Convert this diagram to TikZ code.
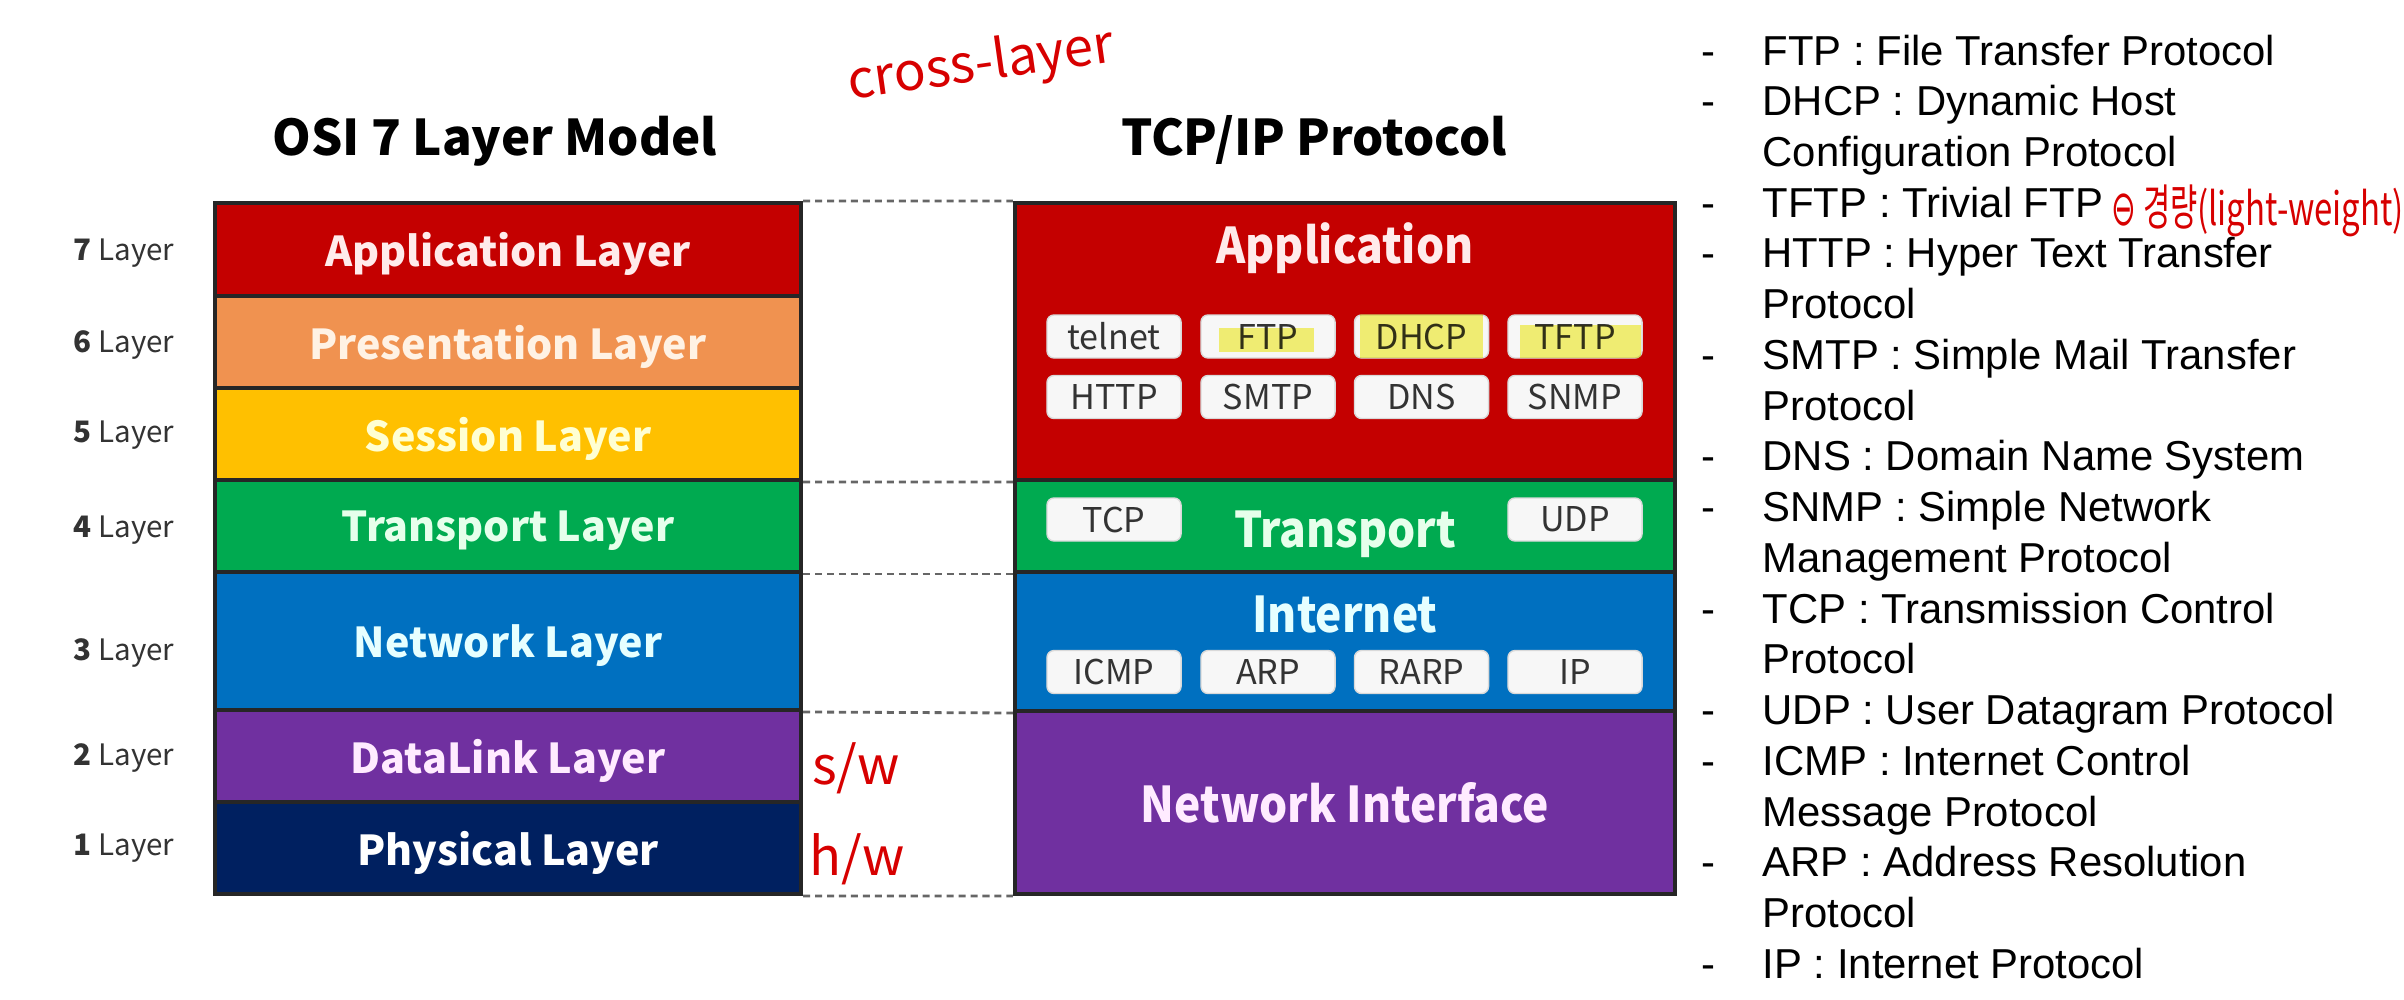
\documentclass[tikz,border=0pt]{standalone}
\usepackage{fontspec}
\setmainfont{Liberation Sans}
\newfontfamily\diagfont{Noto Sans CJK KR}
\newfontfamily\diagnarrow[FakeStretch=0.9]{Noto Sans CJK KR}
\newfontfamily\symfont{DejaVu Sans}
\usetikzlibrary{positioning}
\definecolor{appred}{RGB}{196,0,0}
\definecolor{presorange}{RGB}{240,146,80}
\definecolor{sessyellow}{RGB}{255,192,0}
\definecolor{transgreen}{RGB}{0,170,80}
\definecolor{netblue}{RGB}{0,112,192}
\definecolor{linkpurple}{RGB}{112,48,160}
\definecolor{physnavy}{RGB}{0,32,96}
\definecolor{pen}{RGB}{215,0,0}
\definecolor{marker}{RGB}{245,240,60}
\begin{document}
\begin{tikzpicture}[x=0.01cm,y=-0.01cm,
  osi/.style={draw=black!85, line width=1.1pt, inner sep=0pt, minimum width=5.86cm, text depth=0pt, font=\diagfont\bfseries\fontsize{11.7}{14}\selectfont},
  tcpip/.style={draw=black!85, line width=1.1pt, inner sep=0pt, minimum width=6.6cm, text=white, text depth=0pt, font=\diagnarrow\bfseries\fontsize{14}{17}\selectfont},
  tcptitle/.style={anchor=base, inner sep=0pt, text=white, font=\diagnarrow\bfseries\fontsize{14}{17}\selectfont},
  proto/.style={draw=black!15, fill=black!3, rounded corners=2pt, minimum width=1.34cm, minimum height=0.43cm, inner sep=0pt, text=black!80, font=\diagfont\fontsize{9.7}{11}\selectfont},
  layernum/.style={anchor=east, inner sep=0pt, text=black!80, font=\diagfont\fontsize{8.4}{10}\selectfont},
  heading/.style={anchor=base, inner sep=0pt, font=\diagfont\bfseries\fontsize{14}{17}\selectfont},
  gap/.style={draw=black!60, line width=0.8pt, dash pattern=on 2pt off 1.4pt},
  hand/.style={text=pen, inner sep=0pt, font=\diagfont\fontsize{15}{17}\selectfont},
  hilite/.style={fill=marker, opacity=0.7, blend mode=multiply}
]
\useasboundingbox (0,0) rectangle (2404,999);
\fill[white] (0,0) rectangle (2404,999);

% headings
\node[heading] (osititle) at (495,155) {OSI 7 Layer Model};
\node[heading] (tcptitle) at (1314,155) {TCP/IP Protocol};

% OSI stack
\node[osi, fill=appred, text={rgb,255:red,255;green,235;blue,235}, minimum height=0.93cm] (app) at (508,249.5) {Application Layer};
\node[osi, fill=presorange, text={rgb,255:red,255;green,242;blue,228}, minimum height=0.92cm] (pres) at (508,342) {Presentation Layer};
\node[osi, fill=sessyellow, text={rgb,255:red,255;green,255;blue,210}, minimum height=0.92cm] (sess) at (508,434) {Session Layer};
\node[osi, fill=transgreen, text={rgb,255:red,230;green,255;blue,235}, minimum height=0.92cm] (trans) at (508,526) {Transport Layer};
\node[osi, fill=netblue, text={rgb,255:red,230;green,255;blue,255}, minimum height=1.38cm] (net) at (508,641) {Network Layer};
\node[osi, fill=linkpurple, text={rgb,255:red,255;green,235;blue,255}, minimum height=0.92cm] (link) at (508,756) {DataLink Layer};
\node[osi, fill=physnavy, text=white, minimum height=0.92cm] (phys) at (508,848) {Physical Layer};

% layer numbers
\node[layernum] (n7) at (175,253) {{\bfseries 7} Layer};
\node[layernum] (n6) at (175,345) {{\bfseries 6} Layer};
\node[layernum] (n5) at (175,435) {{\bfseries 5} Layer};
\node[layernum] (n4) at (175,530) {{\bfseries 4} Layer};
\node[layernum] (n3) at (175,653) {{\bfseries 3} Layer};
\node[layernum] (n2) at (175,758) {{\bfseries 2} Layer};
\node[layernum] (n1) at (175,848) {{\bfseries 1} Layer};

% TCP/IP stack
\node[tcpip, fill=appred, minimum height=2.77cm] (rapp) at (1345,341.5) {};
\node[tcpip, fill=transgreen, minimum height=0.92cm] (rtrans) at (1345,526) {};
\node[tcpip, fill=netblue, minimum height=1.39cm] (rint) at (1345,641.5) {};
\node[tcpip, fill=linkpurple, text={rgb,255:red,255;green,235;blue,255}, minimum height=1.83cm] (rnif) at (1345,802.5) {Network Interface};
\node[tcptitle, text={rgb,255:red,255;green,235;blue,235}] (apptxt) at (1345,263) {Application};
\node[tcptitle, text={rgb,255:red,230;green,255;blue,235}] (transtxt) at (1345,547) {Transport};
\node[tcptitle, text={rgb,255:red,230;green,255;blue,255}] (inttxt) at (1345,632) {Internet};

% protocols
\node[proto] (telnet) at (1114,336.5) {telnet};
\node[proto] (ftp) at (1268,336.5) {FTP};
\node[proto] (dhcp) at (1421.5,336.5) {DHCP};
\node[proto] (tftp) at (1575,336.5) {TFTP};
\node[proto] (http) at (1114,397) {HTTP};
\node[proto] (smtp) at (1268,397) {SMTP};
\node[proto] (dns) at (1421.5,397) {DNS};
\node[proto] (snmp) at (1575,397) {SNMP};
\node[proto] (tcp) at (1114,519.5) {TCP};
\node[proto] (udp) at (1575,519.5) {UDP};
\node[proto] (icmp) at (1114,672) {ICMP};
\node[proto] (arp) at (1268,672) {ARP};
\node[proto] (rarp) at (1421.5,672) {RARP};
\node[proto] (ip) at (1575,672) {IP};

% marker
\fill[hilite] (1219,328) rectangle (1314,352);
\fill[hilite] (1360,313) rectangle (1483,358);
\fill[hilite] (1520,325) rectangle (1641,358);

% dashed guides
\draw[gap] (app.north east) -- (rapp.north west);
\draw[gap] (sess.south east) -- (rapp.south west);
\draw[gap] (trans.south east) -- (rtrans.south west);
\draw[gap] (net.south east) -- (rint.south west);
\draw[gap] (phys.south east) -- (rnif.south west);

% notes
\node[hand, rotate=8] (cross) at (981,66) {cross-layer};
\node[hand] (sw) at (856,768) {s/w};
\node[hand] (hw) at (857,859) {h/w};
\node[hand, anchor=base west, font=\diagfont\fontsize{14}{16}\selectfont] (light) at (2111,225)
  {\scalebox{0.6}[1]{{\symfont ⊖} 경량}\scalebox{0.72}[1]{\fontsize{13}{15}\selectfont(light-weight)}};

% legend
\node[anchor=base west, inner sep=0pt, font=\fontsize{11.9}{14.43}\selectfont] (legend) at (1701,65) {%
\begin{tabular}[t]{@{}p{0.61cm}@{}l@{}}
- & FTP : File Transfer Protocol\\
- & DHCP : Dynamic Host\\
  & Configuration Protocol\\
- & TFTP : Trivial FTP\\
- & HTTP : Hyper Text Transfer\\
  & Protocol\\
- & SMTP : Simple Mail Transfer\\
  & Protocol\\
- & DNS : Domain Name System\\
- & SNMP : Simple Network\\
  & Management Protocol\\
- & TCP : Transmission Control\\
  & Protocol\\
- & UDP : User Datagram Protocol\\
- & ICMP : Internet Control\\
  & Message Protocol\\
- & ARP : Address Resolution\\
  & Protocol\\
- & IP : Internet Protocol
\end{tabular}};
\end{tikzpicture}
\end{document}
